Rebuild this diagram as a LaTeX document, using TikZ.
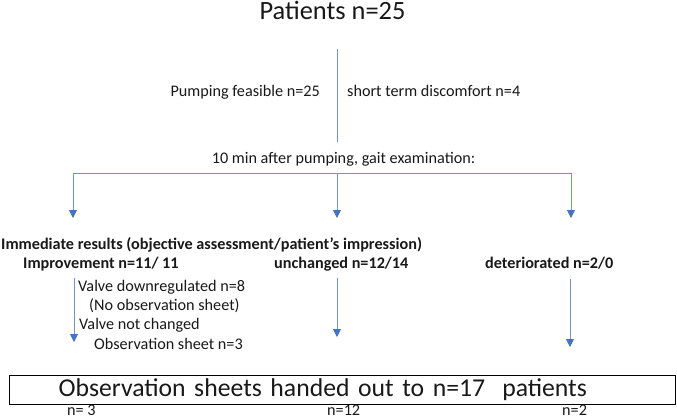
\documentclass[tikz,border=0pt]{standalone}
\usepackage{fontspec}
\setmainfont{Carlito}
\usetikzlibrary{arrows.meta}
\definecolor{arrowblue}{RGB}{68,114,196}
\definecolor{lineblue}{RGB}{110,148,214}
\definecolor{ink}{RGB}{25,25,25}
\begin{document}
\begin{tikzpicture}[x=1pt,y=-1pt,
  txt/.style={inner sep=0pt,text=ink,font=\fontsize{16.2}{19}\selectfont},
  btxt/.style={inner sep=0pt,text=ink,font=\fontsize{16.2}{19}\selectfont\bfseries},
  conn/.style={draw=lineblue,line width=0.9pt},
  arr/.style={conn,-{Triangle[width=8pt,length=8pt,color=arrowblue]}}]
\useasboundingbox[fill=white] (0,0) rectangle (677,420);

% top
\node[txt,anchor=base,font=\fontsize{26.4}{30}\selectfont] (patients) at (332.5,20) {Patients n=25};
\coordinate (v1) at (337,49);
\coordinate (v2) at (337,142);
\draw[conn] (v1) -- (v2);
\node[txt,anchor=base east] (feasible) at (320,96) {Pumping feasible n=25};
\node[txt,anchor=base west] (discomfort) at (347,96) {short term discomfort n=4};
\node[txt,anchor=base] (tenmin) at (343.5,163) {10 min after pumping, gait examination:};

% branching
\coordinate (hL) at (73,173);
\coordinate (hM) at (337,173);
\coordinate (hR) at (571,173);
\coordinate (tL) at (73,218);
\coordinate (tM) at (337,218);
\coordinate (tR) at (571,218);
\draw[conn] (hL) -- (hR);
\draw[arr] (hL) -- (tL);
\draw[arr] (hM) -- (tM);
\draw[arr] (hR) -- (tR);

% results
\node[btxt,anchor=base west] (immediate) at (1,249) {Immediate results (objective assessment/patient’s impression)};
\node[btxt,anchor=base west] (improvement) at (23,268) {Improvement n=11/ 11};
\node[btxt,anchor=base west] (unchanged) at (274,268) {unchanged n=12/14};
\node[btxt,anchor=base west] (deteriorated) at (485,268) {deteriorated n=2/0};

% sub-details
\node[txt,anchor=base west] (down) at (78,291) {Valve downregulated n=8};
\node[txt,anchor=base west] (nosheet) at (89,310) {(No observation sheet)};
\node[txt,anchor=base west] (notchanged) at (79,329) {Valve not changed};
\node[txt,anchor=base west] (sheet) at (94,349) {Observation sheet n=3};

% lower arrows
\coordinate (lL1) at (74,278);
\coordinate (lL2) at (74,342);
\coordinate (lM1) at (337,278);
\coordinate (lM2) at (337,337);
\coordinate (lR1) at (570,279);
\coordinate (lR2) at (570,347);
\draw[arr] (lL1) -- (lL2);
\draw[arr] (lM1) -- (lM2);
\draw[arr] (lR1) -- (lR2);

% box
\node[draw=black,line width=1.2pt,anchor=north west,minimum height=29pt,
      text width=568pt,inner xsep=49pt,inner ysep=0pt,align=left,text=ink,
      font=\fontsize{25.7}{28}\selectfont] (box) at (9,375)
      {Observation sheets handed out to n=17\ \ patients};

% bottom counts
\node[txt,anchor=base west] (c1) at (67,415.5) {n= 3};
\node[txt,anchor=base west] (c2) at (327,415.5) {n=12};
\node[txt,anchor=base west] (c3) at (562,415.5) {n=2};
\end{tikzpicture}
\end{document}
